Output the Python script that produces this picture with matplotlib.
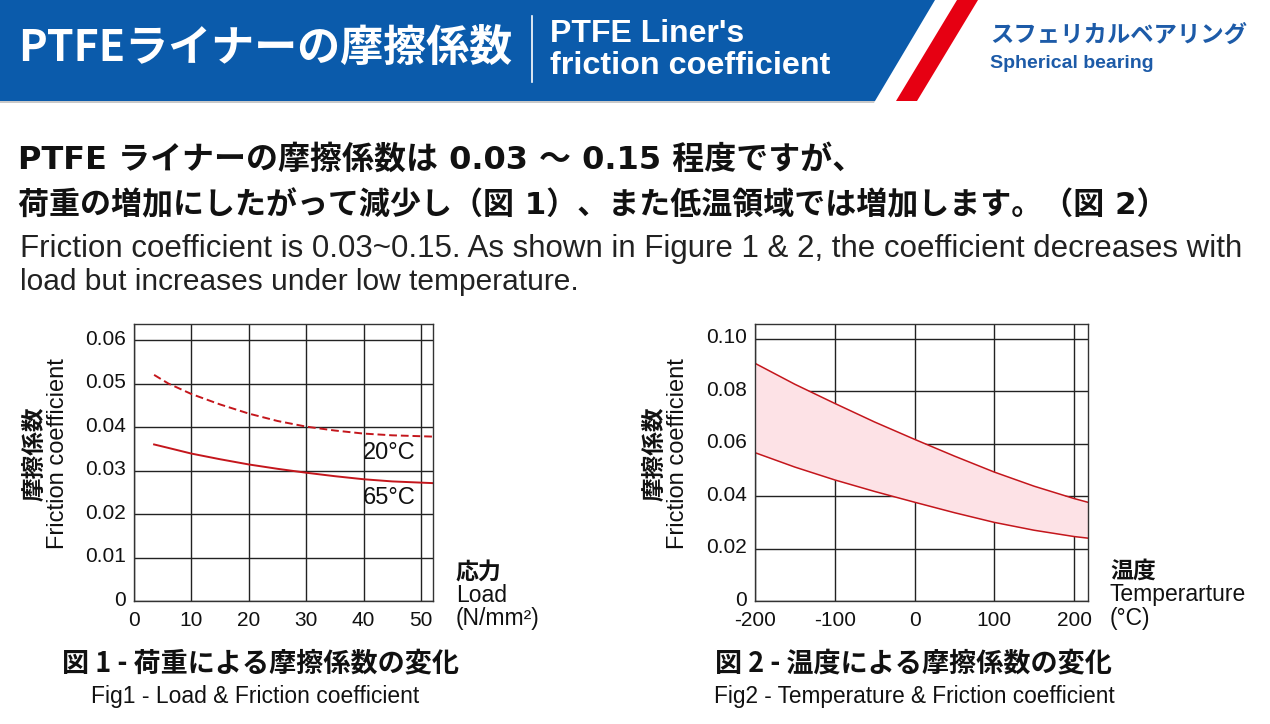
import matplotlib
matplotlib.use("Agg")
import matplotlib.pyplot as plt
from matplotlib.patches import Polygon
from matplotlib.transforms import ScaledTranslation

## Data
load = [3.5, 6, 10, 15, 20, 25, 30, 35, 40, 45, 52.2]
mu_20c = [0.0520, 0.0500, 0.0476, 0.0452, 0.0431, 0.0414, 0.0401, 0.0392, 0.0385, 0.0381, 0.0378]
mu_65c = [0.0360, 0.0352, 0.0339, 0.0326, 0.0314, 0.0304, 0.0295, 0.0287, 0.0280, 0.0275, 0.0271]

temp = [-200, -150, -100, -50, 0, 50, 100, 150, 200, 217]
mu_upper = [0.0907, 0.0827, 0.0754, 0.0683, 0.0617, 0.0553, 0.0492, 0.0438, 0.0391, 0.0377]
mu_lower = [0.0566, 0.0511, 0.0462, 0.0418, 0.0377, 0.0337, 0.0300, 0.0270, 0.0246, 0.0240]

load_ticks = [0, 10, 20, 30, 40, 50]
mu_ticks1 = [0, 0.01, 0.02, 0.03, 0.04, 0.05, 0.06]
mu_labels1 = ["0", "0.01", "0.02", "0.03", "0.04", "0.05", "0.06"]
temp_ticks = [-200, -100, 0, 100, 200]
mu_ticks2 = [0, 0.02, 0.04, 0.06, 0.08, 0.10]
mu_labels2 = ["0", "0.02", "0.04", "0.06", "0.08", "0.10"]

W, H = 1270, 724
JP = "Noto Sans CJK JP"
EN = "Liberation Sans"
BLUE = "#0b5bab"
RED = "#e60012"
LINE = "#c4161c"
INK = "#111111"

plt.rcParams['font.family'] = [EN, JP, 'DejaVu Sans']

fig = plt.figure(figsize=(W / 100, H / 100), dpi=100)
fig.patch.set_facecolor("white")


def px(x, y):
    return x / W, 1 - y / H


def txt(x, y, s, **kw):
    fx, fy = px(x, y)
    fig.text(fx, fy, s, **kw)


## Header band
def poly(pts, color):
    fig.patches.append(Polygon([px(x, y) for x, y in pts], closed=True,
                               transform=fig.transFigure, facecolor=color,
                               edgecolor="none"))


poly([(0, 0), (935, 0), (875, 101), (0, 101)], BLUE)
poly([(957, 0), (978, 0), (917, 101), (896, 101)], RED)
poly([(0, 101), (875, 101), (874, 103), (0, 103)], "#c9c9c9")

txt(18, 48, "PTFEライナーの摩擦係数", family=[JP], fontsize=31, fontweight="bold",
    color="white", va="center", ha="left")
fig.lines.append(plt.Line2D([532 / W, 532 / W], [1 - 16 / H, 1 - 82 / H],
                            transform=fig.transFigure, color="white", lw=1.2))
txt(550, 34, "PTFE Liner's", family=[EN], fontsize=23, fontweight="bold",
    color="white", va="center")
txt(550, 66, "friction coefficient", family=[EN], fontsize=23.3, fontweight="bold",
    color="white", va="center")
txt(990, 35, "スフェリカルベアリング", family=[JP], fontsize=16.8, fontweight="bold",
    color="#1d5ba8", va="center")
txt(990, 63, "Spherical bearing", family=[EN], fontsize=14, fontweight="bold",
    color="#1d5ba8", va="center")

## Body text
MIX = ['DejaVu Sans', JP]
txt(18, 160, "PTFE ライナーの摩擦係数は 0.03 〜 0.15 程度ですが、", family=MIX,
    fontsize=23, fontweight="bold", color=INK, va="center")
txt(18, 205, "荷重の増加にしたがって減少し（図 1）、また低温領域では増加します。（図 2）",
    family=MIX, fontsize=22.3, fontweight="bold", color=INK, va="center")
txt(20, 249, "Friction coefficient is 0.03~0.15. As shown in Figure 1 & 2, the coefficient decreases with",
    family=[EN], fontsize=22.5, color="#222222", va="center")
txt(20, 282, "load but increases under low temperature.", family=[EN], fontsize=21.5,
    color="#222222", va="center")


def style_axes(ax, xticks, yticks, ylabels):
    ax.set_xticks(xticks)
    ax.set_yticks(yticks)
    ax.set_yticklabels(ylabels)
    ax.grid(True, color="#222222", lw=1.0)
    ax.set_axisbelow(True)
    ax.tick_params(length=0, labelsize=15, pad=6, colors=INK)
    ax.tick_params(axis="x", pad=7)
    # labels sit slightly above their grid lines in the reference
    up = ScaledTranslation(0, 0.03, fig.dpi_scale_trans)
    for lab in ax.get_yticklabels():
        lab.set_transform(lab.get_transform() + up)
    for s in ax.spines.values():
        s.set_color("#333333")
        s.set_linewidth(1.0)


## Figure 1 - load
ax1 = fig.add_axes([134 / W, 1 - 601 / H, (433 - 134) / W, (601 - 324) / H])
ax1.plot(load, mu_20c, color=LINE, lw=1.4, ls=(0, (4, 2)))
ax1.plot(load, mu_65c, color=LINE, lw=1.4)
ax1.set_xlim(0, 52.1)
ax1.set_ylim(0, 0.0637)
style_axes(ax1, load_ticks, mu_ticks1, mu_labels1)
ax1.text(39.9, 0.0340, "20°C", fontsize=17, color=INK, va="center")
ax1.text(39.9, 0.0237, "65°C", fontsize=17, color=INK, va="center")

txt(35, 454, "摩擦係数", family=[JP], fontsize=17, fontweight="bold", rotation=90,
    ha="center", va="center", color=INK)
txt(58, 454, "Friction coefficient", family=[EN], fontsize=17, rotation=90,
    ha="center", va="center", color=INK)
txt(456, 572, "応力", family=[JP], fontsize=16.5, fontweight="bold", va="center", color=INK)
txt(456, 595, "Load", family=[EN], fontsize=16.5, va="center", color=INK)
txt(456, 618, "(N/mm²)", family=[EN], fontsize=16.5, va="center", color=INK)

txt(62, 663, "図 1 - 荷重による摩擦係数の変化", family=[JP], fontsize=19.5,
    fontweight="bold", va="center", color=INK)
txt(255, 697, "Fig1 - Load & Friction coefficient", family=[EN], fontsize=16.5,
    va="center", ha="center", color=INK)

## Figure 2 - temperature
ax2 = fig.add_axes([755 / W, 1 - 601 / H, (1088 - 755) / W, (601 - 324) / H])
ax2.fill_between(temp, mu_lower, mu_upper, color="#fde2e6", lw=0)
ax2.plot(temp, mu_upper, color=LINE, lw=1.1)
ax2.plot(temp, mu_lower, color=LINE, lw=1.1)
ax2.set_xlim(-200, 217.5)
ax2.set_ylim(0, 0.1057)
style_axes(ax2, temp_ticks, mu_ticks2, mu_labels2)
ax2.set_xticklabels([str(t) for t in temp_ticks])

txt(655, 454, "摩擦係数", family=[JP], fontsize=17, fontweight="bold", rotation=90,
    ha="center", va="center", color=INK)
txt(678, 454, "Friction coefficient", family=[EN], fontsize=17, rotation=90,
    ha="center", va="center", color=INK)
txt(1110, 571, "温度", family=[JP], fontsize=16.5, fontweight="bold", va="center", color=INK)
txt(1110, 594, "Temperarture", family=[EN], fontsize=16.5, va="center", color=INK)
txt(1110, 618, "(°C)", family=[EN], fontsize=16.5, va="center", color=INK)

txt(715, 663, "図 2 - 温度による摩擦係数の変化", family=[JP], fontsize=19.5,
    fontweight="bold", va="center", color=INK)
txt(914, 697, "Fig2 - Temperature & Friction coefficient", family=[EN], fontsize=16.3,
    va="center", ha="center", color=INK)

fig.savefig("out.png", dpi=100)
